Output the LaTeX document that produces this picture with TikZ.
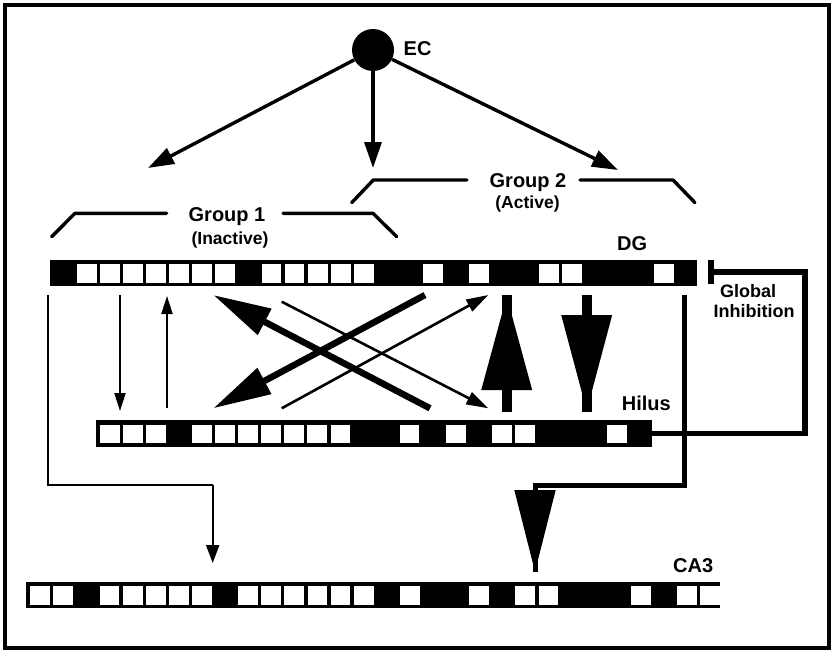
\documentclass[tikz,border=0pt]{standalone}
\usepackage{fontspec}
\setmainfont{Liberation Sans}
\usetikzlibrary{arrows.meta}
\begin{document}
\begin{tikzpicture}[x=1pt,y=-1pt,
  lbl/.style={font=\fontsize{20}{24}\selectfont\bfseries, inner sep=0pt},
  sublbl/.style={font=\fontsize{17.5}{20}\selectfont\bfseries, inner sep=0pt},
  gilbl/.style={font=\fontsize{18}{20}\selectfont\bfseries, inner sep=0pt},
  cellbar/.style={rectangle, fill=black, draw=none, inner sep=0pt, anchor=north west},
  bracket/.style={line width=3.4pt, line cap=round, line join=round},
  ecarrow/.style={line width=3.4pt, -{Triangle[length=26pt,width=17pt]}},
  thinarrow/.style={line width=2pt, -{Triangle[length=18pt,width=11pt]}},
  crossthin/.style={line width=2.6pt, -{Triangle[length=22pt,width=13pt]}},
  crossthick/.style={line width=6.5pt, -{Triangle[length=58pt,width=28pt]}},
  bigshaft/.style={line width=10pt},
  thickline/.style={line width=5pt},
]
\useasboundingbox (0,0) rectangle (835,653);
% outer frame
\draw[line width=4pt] (5,5) rectangle (829,648);

% ---------- cell rows ----------
\node[cellbar, minimum width=647.7pt, minimum height=26.5pt] (dg) at (49.3,259.5) {};
\foreach \i in {1,...,7,9,10,11,12,13,16,18,21,22,26}
  \fill[white] ({53.6+23.1*\i},263.5) rectangle ++(19.8,19);

\node[cellbar, minimum width=556pt, minimum height=26.5pt] (hilus) at (96,420) {};
\foreach \i in {0,1,2,4,5,6,7,8,9,10,13,15,17,18,22}
  \fill[white] ({100+23.05*\i},424.5) rectangle ++(19.8,18.5);

\node[cellbar, minimum width=694pt, minimum height=26.5pt] (ca3) at (26,581.5) {};
\foreach \i in {0,1,3,4,5,6,7,9,10,11,12,13,14,16,19,21,22,26,28,29}
  \fill[white] ({30.3+23.1*\i},585.5) rectangle ++(19.8,19);

% ---------- labels ----------
\node[lbl, anchor=base west] (eclbl) at (403.5,55) {EC};
\node[lbl, anchor=base west] (dglbl) at (617,250) {DG};
\node[lbl, anchor=base west] (hiluslbl) at (621.7,410) {Hilus};
\node[lbl, anchor=base west] (ca3lbl) at (673,572) {CA3};
\node[lbl, anchor=base] (g1) at (227,221.6) {Group 1};
\node[sublbl, anchor=base] (g1s) at (230,244.5) {(Inactive)};
\node[lbl, anchor=base] (g2) at (528,187) {Group 2};
\node[sublbl, anchor=base] (g2s) at (527.5,208.2) {(Active)};
\node[gilbl, anchor=base] (gi1) at (748,297.5) {Global};
\node[gilbl, anchor=base] (gi2) at (754,317) {Inhibition};

% ---------- group brackets ----------
\draw[bracket] (51.7,236.7) -- (75,213.3) -- (166.7,213.3);
\draw[bracket] (283,213.3) -- (373,213.3) -- (396.7,236.7);
\draw[bracket] (351.7,202.7) -- (373.3,180) -- (467,180);
\draw[bracket] (580,180) -- (673,180) -- (695,202.7);

% ---------- entorhinal input ----------
\node[circle, fill=black, minimum size=42pt, inner sep=0pt] (ec) at (373,50) {};
\coordinate (ecL) at (148,168);
\coordinate (ecM) at (373,168);
\coordinate (ecR) at (618,170);
\draw[ecarrow] (ec) -- (ecL);
\draw[ecarrow] (ec) -- (ecM);
\draw[ecarrow] (ec) -- (ecR);

% ---------- DG <-> hilus, inactive group ----------
\coordinate (a1s) at (120,295);  \coordinate (a1e) at (120,411);
\coordinate (a2s) at (167,408);  \coordinate (a2e) at (167,296);
\draw[thinarrow] (a1s) -- (a1e);
\draw[thinarrow] (a2s) -- (a2e);

% ---------- crossing projections ----------
\coordinate (x1s) at (430,408.3); \coordinate (x1e) at (213.3,295);
\coordinate (x2s) at (425,295);   \coordinate (x2e) at (213.3,408.3);
\coordinate (x3s) at (281.7,301.7); \coordinate (x3e) at (488.3,408.3);
\coordinate (x4s) at (281.7,408.3); \coordinate (x4e) at (488.3,295);
\draw[crossthin] (x3s) -- (x3e);
\draw[crossthin] (x4s) -- (x4e);
\draw[crossthick] (x1s) -- (x1e);
\draw[crossthick] (x2s) -- (x2e);

% ---------- DG <-> hilus, active group ----------
\coordinate (u0) at (506.7,412); \coordinate (u1) at (506.7,295);
\draw[bigshaft] (u0) -- (u1);
\draw[bigshaft, -{Triangle[length=95pt,width=48pt]}] (u0) -- (u1);
\coordinate (d0) at (586.7,295); \coordinate (d1) at (586.7,412);
\draw[bigshaft] (d0) -- (d1);
\draw[bigshaft, -{Triangle[length=97pt,width=48pt]}] (d0) -- (d1);

% ---------- global inhibition loop ----------
\coordinate (gic) at (805,272);
\coordinate (gie) at (708,272);
\draw[line width=5.5pt, -{Bar[width=24pt]}] (hilus.east) -| (gic) -- (gie);

% ---------- mossy fibres to CA3 ----------
\coordinate (m1s) at (48,295);  \coordinate (m1b) at (48,485);
\coordinate (m1c) at (212.7,485); \coordinate (m1e) at (212.7,563);
\draw[line width=2pt] (m1s) -- (m1b) -- (m1c);
\draw[line width=2pt, -{Triangle[length=18pt,width=13pt]}] (m1c) -- (m1e);
\coordinate (m2s) at (684.2,295); \coordinate (m2b) at (684.2,485);
\coordinate (m2c) at (535,485);   \coordinate (m2e) at (535,572);
\draw[thickline] (m2s) -- (m2b) -- (m2c) -- (m2e);
\draw[thickline, -{Triangle[length=82pt,width=40pt]}] (m2c) -- (m2e);
\end{tikzpicture}
\end{document}
